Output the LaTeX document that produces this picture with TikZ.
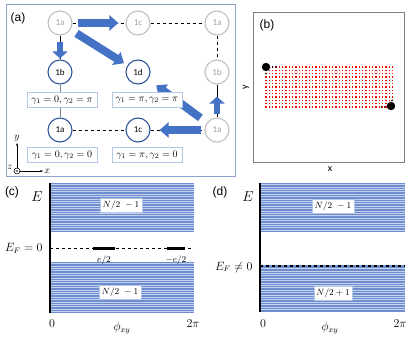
\documentclass[tikz,border=0pt]{standalone}
\usepackage{amsmath}
\usepackage{amssymb}
\usepackage{fontspec}
\newfontfamily\carlito{Carlito}
\newfontfamily\arialfont{Liberation Sans}
\usepackage{tikz}
\usetikzlibrary{arrows.meta}

\definecolor{darkblue}{HTML}{2F5597}
\definecolor{midblue}{HTML}{4472C4}
\definecolor{paleblue}{HTML}{B4C7E7}
\definecolor{ringgray}{HTML}{BFBFBF}
\definecolor{framegray}{HTML}{8FA4CC}
\definecolor{bandblue}{HTML}{6D8DD0}
\definecolor{stripe}{HTML}{C4D2EE}

\begin{document}
\begin{tikzpicture}[x=1pt, y=-1pt,
		site/.style={circle, draw=darkblue, line width=1.1pt, minimum size=24pt, inner sep=0pt, font=\carlito\small},
		ghost/.style={site, draw=ringgray, text=gray!75},
		bigarrow/.style={midblue, line width=8pt, -{Triangle[length=9pt, width=15pt]}},
		smallarrow/.style={midblue, line width=6pt, -{Triangle[length=7pt, width=15pt]}},
		link/.style={dashed, thin},
		gamma/.style={draw=paleblue, fill=white, line width=0.6pt, minimum width=70pt, minimum height=15pt, inner sep=1pt},
		count/.style={draw=paleblue, fill=white, font=\small, inner sep=2.5pt},
		panel/.style={font=\arialfont\large}]
		\useasboundingbox (0,0) rectangle (416,340);

		% (a) frame
		\draw[framegray, line width=0.8pt] (6,4) rectangle (235,176);
		\node[panel] (la) at (18,18) {(a)};

		% Sites
		\node[ghost] (a1) at (60,23) {1a};
		\node[ghost] (c1) at (138,23) {1c};
		\node[ghost] (a2) at (217,23) {1a};
		\node[site] (b1) at (60,72) {1b};
		\node[site] (d1) at (138,72) {1d};
		\node[ghost] (b2) at (217,72) {1b};
		\node[site] (a3) at (60,130) {1a};
		\node[site] (c2) at (138,130) {1c};
		\node[ghost] (a4) at (217,130) {1a};

		% Links
		\draw[link] (a1) -- (c1);
		\draw[link] (c1) -- (a2);
		\draw[link] (a2) -- (b2);
		\draw[link] (a3) -- (c2);
		\draw[link] (c2) -- (a4);
		\draw[thin] (b2) -- (a4);
		\draw[thin] (a1) -- (b1);
		\draw[thin, gray] (b1) -- (a3);

		% Moves
		\draw[bigarrow, shorten <=5pt, shorten >=7pt] (a1) -- (c1);
		\draw[smallarrow, shorten <=6pt, shorten >=1pt] (a1) -- (b1);
		\draw[bigarrow, shorten <=7pt, shorten >=4pt] (a1) -- (d1);
		\draw[smallarrow, shorten <=3pt, shorten >=12pt] (a4) -- (b2);
		\draw[bigarrow, shorten <=8pt, shorten >=10pt] (a4) -- (d1);
		\draw[bigarrow, shorten <=3pt, shorten >=9pt] (a4) -- (c2);

		% Berry phases
		\node[gamma] (g1) at (62,100) {$\gamma_1=0,\gamma_2=\pi$};
		\node[gamma] (g2) at (147,100) {$\gamma_1=\pi,\gamma_2=\pi$};
		\node[gamma] (g3) at (62,155) {$\gamma_1=0,\gamma_2=0$};
		\node[gamma] (g4) at (147,155) {$\gamma_1=\pi,\gamma_2=0$};

		% Triad
		\coordinate (o) at (17,171);
		\draw[-{Stealth[length=3pt]}, semithick] (o) -- (17,143) node[above, inner sep=1pt] {$y$};
		\draw[-{Stealth[length=3pt]}, semithick] (o) -- (43,171) node[right, inner sep=1pt] {$x$};
		\draw[fill=white, semithick] (o) circle (3pt);
		\fill (o) circle (0.9pt);
		\node[inner sep=0pt] (z) at (10,167) {$z$};

		% (b) corner states
		\draw[gray, line width=0.8pt] (253,12) rectangle (404,162);
		\node[panel] (lb) at (267,25) {(b)};
		\node[rotate=90, font=\carlito] (ly) at (246,87) {y};
		\node[font=\carlito] (lx) at (330,169) {x};
		\foreach \i in {0,...,38}
			\foreach \j in {0,...,12}
				\fill[red] (265.3+\i*3.33, 66.3+\j*3.33) rectangle ++(1.4,1.4);
		\foreach \p in {(269.5,67), (272.8,67), (276.1,67), (266,70.3), (266,73.6), (388,107), (384.7,107), (381.4,107), (392,103.7), (392,100.4)}
			\fill[black] \p circle (0.9pt);
		\fill (266,67) circle (4.2pt);
		\fill (391,106) circle (4.2pt);

		% (c) spectrum, E_F = 0
		\node[panel] (lc) at (12,192) {(c)};
		\fill[bandblue] (50,183) rectangle (194,232);
		\fill[bandblue] (50,262) rectangle (194,313);
		\foreach \s in {184.5,186.9,...,231}
			\draw[stripe, line width=0.7pt] (50,\s) -- (194,\s);
		\foreach \s in {263.5,265.9,...,312}
			\draw[stripe, line width=0.7pt] (50,\s) -- (194,\s);
		\draw[line width=2pt] (50,183) -- (50,313);
		\node[count] (nc1) at (121,205) {$N/2\ -1$};
		\node[count] (nc2) at (120,292) {$N/2\ -1$};
		\draw[dashed, thick] (50,248) -- (194,248);
		\draw[line width=3pt] (93,248) -- (115,248) node[midway, below=3pt, font=\small] (e1) {$e/2$};
		\draw[line width=3pt] (167,248) -- (185,248) node[midway, below=3pt, font=\small] (e2) {$-e/2$};
		\node[anchor=east, font=\large] (efc) at (46,248) {$E_F=0$};
		\node[font=\Large] (ec) at (37,197) {$E$};
		\node[font=\large] (zc) at (52,324) {$0$};
		\node[font=\large] (pc) at (193,324) {$2\pi$};
		\node[font=\large] (fc) at (122,328) {$\phi_{xy}$};

		% (d) spectrum, E_F != 0
		\node[panel] (ld) at (220,192) {(d)};
		\fill[bandblue] (260,183) rectangle (405,232);
		\fill[bandblue] (260,265) rectangle (405,312);
		\foreach \s in {184.5,186.9,...,231}
			\draw[stripe, line width=0.7pt] (260,\s) -- (405,\s);
		\foreach \s in {268.5,270.9,...,311}
			\draw[stripe, line width=0.7pt] (260,\s) -- (405,\s);
		\draw[line width=2pt] (260,183) -- (260,312);
		\node[count] (nd1) at (333,206) {$N/2\ -1$};
		\node[count] (nd2) at (333,293) {$N/2+1$};
		\draw[dashed, line width=1.2pt] (260,266) -- (405,266);
		\node[anchor=east, font=\large] (efd) at (256,267) {$E_F\neq 0$};
		\node[font=\Large] (ed) at (248,197) {$E$};
		\node[font=\large] (zd) at (263,324) {$0$};
		\node[font=\large] (pd) at (400,324) {$2\pi$};
		\node[font=\large] (fd) at (330,328) {$\phi_{xy}$};
\end{tikzpicture}
\end{document}
